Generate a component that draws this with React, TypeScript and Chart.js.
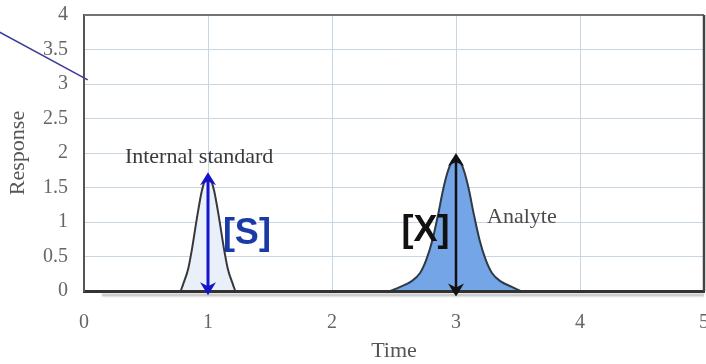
import React, { useEffect, useRef } from "react";
import { Chart, registerables } from "chart.js";

Chart.register(...registerables);

// ---- data ----
const xTickValues = [0, 1, 2, 3, 4, 5];
const yTickValues = [0, 0.5, 1, 1.5, 2, 2.5, 3, 3.5, 4];

const standardTime = [0.78, 0.8, 0.84, 0.87, 0.91, 0.95, 0.975, 1.0, 1.025, 1.05, 1.09, 1.13, 1.16, 1.2, 1.22];
const standardResponse = [0, 0.1, 0.32, 0.6, 1.05, 1.45, 1.6, 1.65, 1.6, 1.45, 1.05, 0.6, 0.32, 0.1, 0];

const analyteTime = [2.47, 2.55, 2.64, 2.71, 2.76, 2.81, 2.855, 2.895, 2.93, 2.965, 3.0, 3.035, 3.07, 3.105, 3.145, 3.19, 3.24, 3.29, 3.36, 3.45, 3.52];
const analyteResponse = [0, 0.06, 0.14, 0.26, 0.45, 0.74, 1.1, 1.46, 1.71, 1.87, 1.93, 1.87, 1.71, 1.46, 1.1, 0.74, 0.45, 0.26, 0.14, 0.06, 0];

const arrowTime = [1, 3];
const arrowTop = [1.72, 2.0];
const arrowBottom = [-0.06, -0.08];

const strayLineTime = [-0.68, 0.03];
const strayLineResponse = [3.75, 3.06];

const labelTexts = ["Internal standard", "Analyte", "[S]", "[X]"];
const labelTime = [0.33, 3.25, 1.12, 2.56];
const labelResponse = [1.94, 1.07, 0.83, 0.87];

// ---- styles ----
const labelFonts = [
  "22px 'Liberation Serif', serif",
  "22px 'Liberation Serif', serif",
  "bold 36px 'Liberation Sans', Arial, sans-serif",
  "bold 36px 'Liberation Sans', Arial, sans-serif",
];
const labelColors = ["#3a3a3a", "#4a4a4a", "#1a3aa8", "#111111"];
const arrowColors = ["#1414cc", "#111111"];
const arrowWidths = [3, 2.5];

const decorPlugin = {
  id: "decor",
  beforeDatasetsDraw(chart: any) {
    const { ctx, chartArea } = chart;
    ctx.save();
    ctx.strokeStyle = "rgba(150,150,150,0.35)";
    ctx.lineWidth = 3;
    ctx.shadowColor = "rgba(110,110,110,0.5)";
    ctx.shadowBlur = 3;
    ctx.beginPath();
    ctx.moveTo(chartArea.left + 18, chartArea.bottom + 4);
    ctx.lineTo(chartArea.right, chartArea.bottom + 4);
    ctx.stroke();
    ctx.restore();
  },
  afterDraw(chart: any) {
    const { ctx, chartArea } = chart;
    const xs = chart.scales.x;
    const ys = chart.scales.y;
    ctx.save();
    // top and right frame
    ctx.strokeStyle = "#727272";
    ctx.lineWidth = 2;
    ctx.beginPath();
    ctx.moveTo(chartArea.left, chartArea.top);
    ctx.lineTo(chartArea.right, chartArea.top);
    ctx.stroke();
    ctx.strokeStyle = "#444";
    ctx.lineWidth = 2.5;
    ctx.beginPath();
    ctx.moveTo(chartArea.right, chartArea.top);
    ctx.lineTo(chartArea.right, chartArea.bottom);
    ctx.stroke();

    // stray line
    ctx.strokeStyle = "#3b3b9c";
    ctx.lineWidth = 1.6;
    ctx.beginPath();
    ctx.moveTo(xs.getPixelForValue(strayLineTime[0]), ys.getPixelForValue(strayLineResponse[0]));
    ctx.lineTo(xs.getPixelForValue(strayLineTime[1]), ys.getPixelForValue(strayLineResponse[1]));
    ctx.stroke();

    // arrows
    arrowTime.forEach((t, i) => {
      const x = xs.getPixelForValue(t);
      const yT = ys.getPixelForValue(arrowTop[i]);
      const yB = ys.getPixelForValue(arrowBottom[i]);
      const c = arrowColors[i];
      ctx.strokeStyle = c;
      ctx.fillStyle = c;
      ctx.lineWidth = arrowWidths[i];
      ctx.beginPath();
      ctx.moveTo(x, yT + 6);
      ctx.lineTo(x, yB - 6);
      ctx.stroke();
      const hw = 8, hl = 13;
      ctx.beginPath();
      ctx.moveTo(x, yT);
      ctx.lineTo(x - hw, yT + hl);
      ctx.lineTo(x, yT + hl - 4);
      ctx.lineTo(x + hw, yT + hl);
      ctx.closePath();
      ctx.fill();
      ctx.beginPath();
      ctx.moveTo(x, yB);
      ctx.lineTo(x - hw, yB - hl);
      ctx.lineTo(x, yB - hl + 4);
      ctx.lineTo(x + hw, yB - hl);
      ctx.closePath();
      ctx.fill();
    });

    // labels
    ctx.textAlign = "left";
    ctx.textBaseline = "middle";
    labelTexts.forEach((txt, i) => {
      ctx.font = labelFonts[i];
      ctx.fillStyle = labelColors[i];
      ctx.fillText(txt, xs.getPixelForValue(labelTime[i]), ys.getPixelForValue(labelResponse[i]));
    });
    ctx.restore();
  },
};

export default function App() {
  const canvasRef = useRef<HTMLCanvasElement | null>(null);

  useEffect(() => {
    if (!canvasRef.current) return;
    const chart = new Chart(canvasRef.current, {
      type: "line",
      data: {
        datasets: [
          {
            label: "Internal standard",
            data: standardTime.map((t, i) => ({ x: t, y: standardResponse[i] })),
            borderColor: "#383838",
            borderWidth: 2,
            backgroundColor: "#e9f0fa",
            fill: "origin",
            pointRadius: 0,
            cubicInterpolationMode: "monotone",
          },
          {
            label: "Analyte",
            data: analyteTime.map((t, i) => ({ x: t, y: analyteResponse[i] })),
            borderColor: "#2f3a48",
            borderWidth: 2,
            backgroundColor: "#74a5e6",
            fill: "origin",
            pointRadius: 0,
            cubicInterpolationMode: "monotone",
          },
        ],
      },
      options: {
        responsive: false,
        animation: false,
        events: [],
        layout: { padding: { left: 0, top: 15, right: 2, bottom: 0 } },
        plugins: { legend: { display: false }, tooltip: { enabled: false } },
        scales: {
          x: {
            type: "linear",
            min: 0,
            max: 5,
            afterFit: (s: any) => {
              s.height = 73;
              s.paddingLeft = 0;
              s.paddingRight = 0;
            },
            afterBuildTicks: (s: any) => {
              s.ticks = xTickValues.map((v) => ({ value: v }));
            },
            ticks: {
              padding: 20,
              color: "#666",
              font: { family: "'Liberation Serif', serif", size: 20 },
            },
            grid: { color: "#c8d5e3", lineWidth: 1, drawTicks: false },
            border: { display: true, color: "#333", width: 3, z: 1 },
            title: {
              display: true,
              text: "Time",
              color: "#555",
              font: { family: "'Liberation Serif', serif", size: 22 },
              padding: { top: 0, bottom: 0 },
            },
          },
          y: {
            type: "linear",
            min: 0,
            max: 4,
            afterFit: (s: any) => {
              s.width = 84;
              s.paddingTop = 0;
              s.paddingBottom = 0;
            },
            afterBuildTicks: (s: any) => {
              s.ticks = yTickValues.map((v) => ({ value: v }));
            },
            ticks: {
              padding: 16,
              color: "#666",
              font: { family: "'Liberation Serif', serif", size: 20 },
              callback: (v: any) => String(v),
            },
            grid: { color: "#c8d5e3", lineWidth: 1, drawTicks: false },
            border: { display: true, color: "#555", width: 2, z: 1 },
            title: {
              display: true,
              text: "Response",
              color: "#555",
              font: { family: "'Liberation Serif', serif", size: 22 },
              padding: { top: 5, bottom: 0 },
            },
          },
        },
      },
      plugins: [decorPlugin],
    } as any);
    return () => chart.destroy();
  }, []);

  return (
    <div style={{ position: "fixed", left: 0, top: 0, width: 706, height: 364, background: "#fff" }}>
      <canvas ref={canvasRef} width={706} height={364} style={{ display: "block" }} />
    </div>
  );
}
